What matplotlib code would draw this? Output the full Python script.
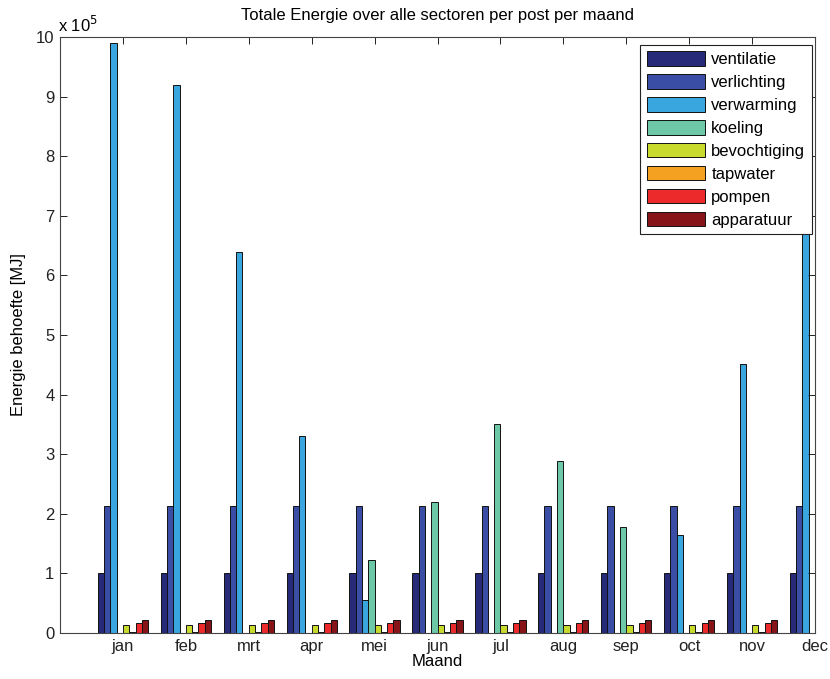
import numpy as np
import matplotlib
matplotlib.use("Agg")
import matplotlib.pyplot as plt

plt.rcParams['font.family'] = ['Liberation Sans', 'DejaVu Sans']

maanden = ['jan', 'feb', 'mrt', 'apr', 'mei', 'jun', 'jul', 'aug', 'sep', 'oct', 'nov', 'dec']
posten = ['ventilatie', 'verlichting', 'verwarming', 'koeling',
          'bevochtiging', 'tapwater', 'pompen', 'apparatuur']

# Energy demand per post per month, in units of 1e5 MJ
ventilatie   = [1.0] * 12
verlichting  = [2.13] * 12
verwarming   = [9.9, 9.2, 6.4, 3.3, 0.55, 0, 0, 0, 0, 1.65, 4.52, 8.0]
koeling      = [0, 0, 0, 0, 1.22, 2.2, 3.5, 2.88, 1.78, 0, 0, 0]
bevochtiging = [0.13] * 12
tapwater     = [0.02] * 12
pompen       = [0.16] * 12
apparatuur   = [0.22] * 12

series = [ventilatie, verlichting, verwarming, koeling,
          bevochtiging, tapwater, pompen, apparatuur]
colors = ['#262a78', '#3a4ea6', '#3aa6e0', '#6cc8a6',
          '#c8da2c', '#f4a020', '#ec2a2c', '#861418']

fs = 12

fig = plt.figure(figsize=(8.3, 6.79), dpi=100)
ax = fig.add_axes([60 / 830, 46 / 679, 755 / 830, 596 / 679])

x = np.arange(1, 13)
n = len(series)
w = 0.1
for i, (vals, c, lab) in enumerate(zip(series, colors, posten)):
    ax.bar(x + (i - (n - 1) / 2) * w, np.array(vals) * 1e5, width=w,
           color=c, edgecolor='#111111', linewidth=0.7, label=lab)

ax.set_xlim(0, 12)
ax.set_ylim(0, 10e5)
ax.set_xticks(x)
ax.set_xticklabels(maanden)
ax.set_yticks(np.arange(0, 11) * 1e5)
ax.set_yticklabels([str(v) for v in range(11)])
ax.tick_params(direction='in', top=True, right=True, length=5,
               labelsize=fs, colors='#222222', width=0.7, pad=4)
for s in ax.spines.values():
    s.set_color('#444444')
    s.set_linewidth(0.8)

ax.text(-0.003, 1.004, r'x 10$^5$', transform=ax.transAxes, fontsize=fs,
        ha='left', va='bottom')
ax.set_title('Totale Energie over alle sectoren per post per maand',
             fontsize=fs, pad=12)
ax.set_xlabel('Maand', fontsize=fs, labelpad=0)
ax.set_ylabel('Energie behoefte [MJ]', fontsize=fs, labelpad=7)

leg = ax.legend(loc='upper right', bbox_to_anchor=(0.996, 0.987),
                fontsize=fs, frameon=True, fancybox=False, framealpha=1,
                edgecolor='#222222', handlelength=3.5, handleheight=0.95,
                labelspacing=0.42, borderpad=0.4, handletextpad=0.35,
                borderaxespad=0)
leg.get_frame().set_linewidth(0.8)

fig.savefig('out.png', dpi=100)
